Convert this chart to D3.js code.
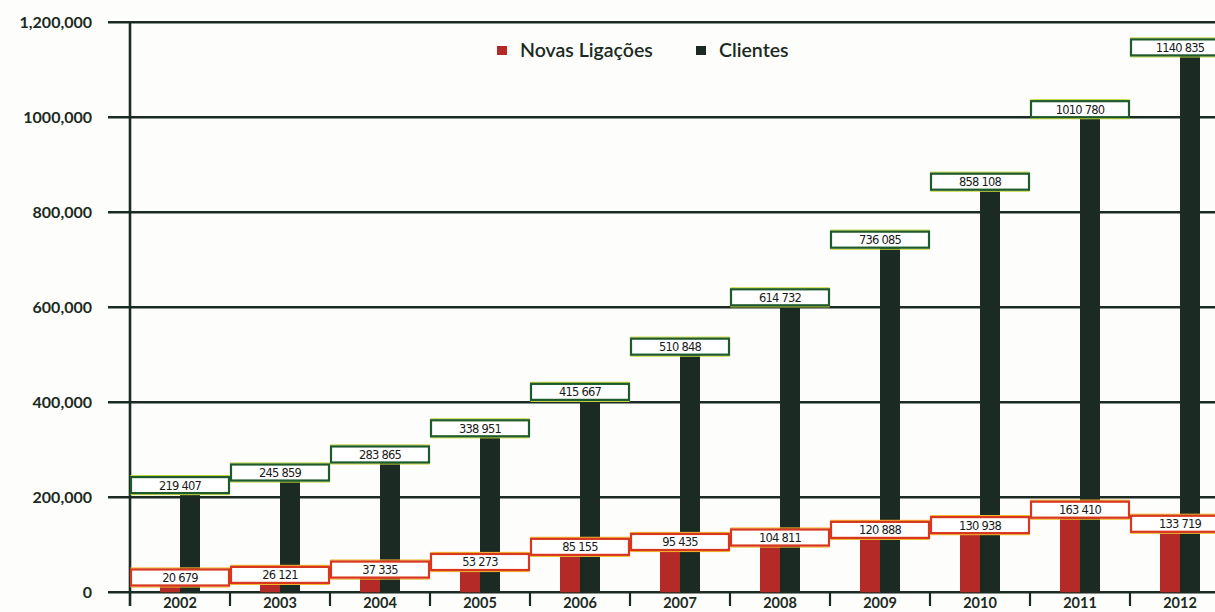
<!DOCTYPE html>
<html><head><meta charset="utf-8">
<script src="https://cdn.jsdelivr.net/npm/d3@7"></script>
<style>
html,body{margin:0;padding:0;background:#fdfdfb;}
svg{display:block;}
</style></head>
<body>
<svg id="c" width="1215" height="612"></svg>
<script>
const years = ["2002","2003","2004","2005","2006","2007","2008","2009","2010","2011","2012"];
const novasLigacoes = [20679, 26121, 37335, 53273, 85155, 95435, 104811, 120888, 130938, 163410, 133719];
const clientes = [219407, 245859, 283865, 338951, 415667, 510848, 614732, 736085, 858108, 1010780, 1140835];
const novasLabels = ["20 679","26 121","37 335","53 273","85 155","95 435","104 811","120 888","130 938","163 410","133 719"];
const clientesLabels = ["219 407","245 859","283 865","338 951","415 667","510 848","614 732","736 085","858 108","1010 780","1140 835"];
const yTicks = [0, 200000, 400000, 600000, 800000, 1000000, 1200000];
const yTickLabels = ["0","200,000","400,000","600,000","800,000","1000,000","1,200,000"];
const legendItems = ["Novas Ligações","Clientes"];

const C_DARK = "#1b2a22", C_RED = "#b42a26", C_GREEN = "#1d5a2c", C_ORANGE = "#d8361e";
const svg = d3.select("#c");
const x = d3.scaleBand().domain(years).range([130, 1230]).padding(0);
const y = d3.scaleLinear().domain([0, 1200000]).range([592.3, 22.3]);
const bw = 20;

// gridlines
svg.append("g").selectAll("line").data(yTicks).join("line")
  .attr("x1", 108).attr("x2", 1215)
  .attr("y1", d => y(d)).attr("y2", d => y(d))
  .attr("stroke", C_DARK).attr("stroke-width", 2.6);

// y tick labels
svg.append("g").selectAll("text").data(yTicks).join("text")
  .attr("x", 92).attr("y", d => y(d) + 5.5)
  .attr("text-anchor", "end")
  .attr("font-family", "Lato, 'Open Sans', sans-serif").attr("font-weight", 700)
  .attr("font-size", 16).attr("fill", C_DARK)
  .text((d, i) => yTickLabels[i]);

// y axis line
svg.append("line").attr("x1", 130).attr("x2", 130).attr("y1", y(1200000)).attr("y2", 606)
  .attr("stroke", C_DARK).attr("stroke-width", 2.6);
// category ticks
svg.append("g").selectAll("line").data(years.slice(1)).join("line")
  .attr("x1", d => x(d)).attr("x2", d => x(d))
  .attr("y1", y(0)).attr("y2", 606)
  .attr("stroke", C_DARK).attr("stroke-width", 2.2);

// bars
const cx = d => x(d) + x.bandwidth() / 2;
svg.append("g").selectAll("rect").data(years).join("rect")
  .attr("x", d => cx(d) - bw).attr("width", bw)
  .attr("y", (d, i) => y(novasLigacoes[i])).attr("height", (d, i) => y(0) - y(novasLigacoes[i]))
  .attr("fill", C_RED);
svg.append("g").selectAll("rect").data(years).join("rect")
  .attr("x", d => cx(d)).attr("width", bw)
  .attr("y", (d, i) => y(clientes[i])).attr("height", (d, i) => y(0) - y(clientes[i]))
  .attr("fill", C_DARK);

// label boxes
function boxes(vals, labels, stroke, glow, off) {
  const g = svg.append("g");
  const bh = 16;
  years.forEach((yr, i) => {
    const cy = y(vals[i]) - off;
    g.append("rect").attr("x", x(yr) + 1).attr("y", cy - bh / 2 - 1.5)
      .attr("width", x.bandwidth() - 2).attr("height", bh + 3)
      .attr("fill", "none").attr("stroke", glow).attr("stroke-width", 1.2);
    g.append("rect").attr("x", x(yr) + 1).attr("y", cy - bh / 2)
      .attr("width", x.bandwidth() - 2).attr("height", bh)
      .attr("fill", "#ffffff").attr("stroke", stroke).attr("stroke-width", 2.2);
    g.append("text").attr("x", cx(yr)).attr("y", cy + 4.5)
      .attr("text-anchor", "middle")
      .attr("font-family", "'DejaVu Sans', sans-serif").attr("font-weight", 400)
      .attr("font-size", 11.5).attr("letter-spacing", -0.8).attr("fill", "#1a1a1a")
      .text(labels[i]);
  });
}
boxes(clientes, clientesLabels, C_GREEN, "#c8d840", 3);
boxes(novasLigacoes, novasLabels, C_ORANGE, "#f0b830", 5);

// x labels
svg.append("g").selectAll("text").data(years).join("text")
  .attr("x", d => cx(d)).attr("y", 608)
  .attr("text-anchor", "middle")
  .attr("font-family", "Lato, 'Open Sans', sans-serif").attr("font-weight", 700)
  .attr("font-size", 14.5).attr("fill", C_DARK)
  .text(d => d);

// legend
const leg = svg.append("g");
const legColors = [C_RED, C_DARK];
const legX = [497, 696];
legendItems.forEach((t, i) => {
  leg.append("rect").attr("x", legX[i]).attr("y", 46).attr("width", 10).attr("height", 9)
    .attr("fill", legColors[i]);
  leg.append("text").attr("x", legX[i] + 23).attr("y", 57)
    .attr("font-family", "Lato, 'Open Sans', sans-serif").attr("font-weight", 600)
    .attr("font-size", 19.5).attr("fill", C_DARK).text(t);
});
</script>
</body></html>
